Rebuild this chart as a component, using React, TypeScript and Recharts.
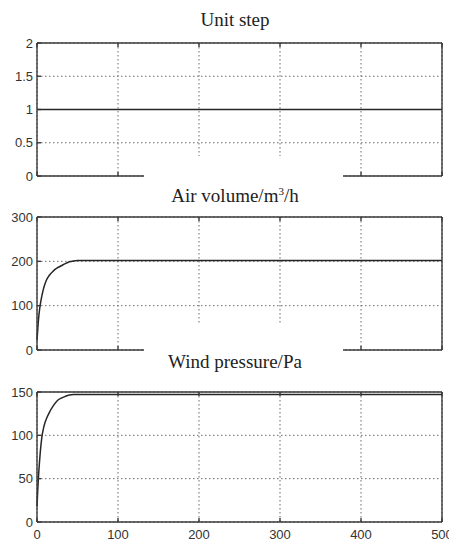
import React from 'react'
import { LineChart, Line, XAxis, YAxis, CartesianGrid } from 'recharts'

const time = [0, 1, 2, 3, 4, 6, 8, 10, 12, 15, 20, 25, 30, 35, 40, 45, 50, 500]
const unitStep = [1, 1, 1, 1, 1, 1, 1, 1, 1, 1, 1, 1, 1, 1, 1, 1, 1, 1]
const airVolume = [22, 48, 72, 89, 102, 122, 138, 150, 159, 168, 178, 185, 190, 195, 199, 201, 202, 202]
const windPressure = [18, 38, 55, 68, 80, 98, 108, 115, 120, 126, 134, 140, 143, 145, 146.5, 147, 147, 147]

const xTicks = [0, 100, 200, 300, 400, 500]
const stepTicks = [0, 0.5, 1, 1.5, 2]
const airTicks = [0, 100, 200, 300]
const windTicks = [0, 50, 100, 150]

const BORDER = '#3a3a3a'
const GRID = '#6a6a6a'
const LINE = '#262626'
const tickStyle = { fontSize: 13, fill: '#333', fontFamily: 'Liberation Sans, Arial, sans-serif' }

// hidden labels but keep ticks (so the grid still gets them)
const noLabel = () => <g />

type PanelProps = {
  values: number[]
  yTicks: number[]
  top: number
  plotHeight: number
  showX?: boolean
}

function Panel({ values, yTicks, top, plotHeight, showX }: PanelProps) {
  const data = time.map((t, i) => ({ t, v: values[i] }))
  const xHeight = showX ? 24 : 10
  const domain: [number, number] = [yTicks[0], yTicks[yTicks.length - 1]]
  return (
    <div style={{ position: 'absolute', left: 0, top }}>
      <LineChart width={449} height={10 + plotHeight + xHeight} data={data} margin={{ top: 0, right: 0, bottom: 0, left: 0 }}>
        <CartesianGrid stroke={GRID} strokeDasharray="1.5 2.5" />
        <XAxis
          dataKey="t"
          type="number"
          domain={[0, 500]}
          ticks={xTicks}
          height={xHeight}
          tick={showX ? tickStyle : noLabel}
          tickSize={-4}
          tickMargin={12}
          stroke={BORDER}
          strokeWidth={1.4}
          interval={0}
        />
        <XAxis
          xAxisId="top"
          orientation="top"
          dataKey="t"
          type="number"
          domain={[0, 500]}
          ticks={xTicks}
          height={10}
          tick={noLabel}
          tickSize={-4}
          stroke={BORDER}
          strokeWidth={1.4}
          interval={0}
        />
        <YAxis
          type="number"
          domain={domain}
          ticks={yTicks}
          width={37}
          tick={tickStyle}
          tickSize={-4}
          tickMargin={8}
          stroke={BORDER}
          strokeWidth={1.4}
          interval={0}
        />
        <YAxis
          yAxisId="right"
          orientation="right"
          type="number"
          domain={domain}
          ticks={yTicks}
          width={7}
          tick={noLabel}
          tickSize={-4}
          stroke={BORDER}
          strokeWidth={1.4}
          interval={0}
        />
        <Line type="monotone" dataKey="v" stroke={LINE} strokeWidth={1.5} dot={false} isAnimationActive={false} />
      </LineChart>
    </div>
  )
}

const titleStyle: React.CSSProperties = {
  position: 'absolute',
  left: 0,
  width: 470,
  textAlign: 'center',
  fontFamily: 'Liberation Serif, Times New Roman, serif',
  fontSize: 19,
  lineHeight: '19px',
  color: '#222',
}

const cover: React.CSSProperties = {
  position: 'absolute',
  left: 144,
  width: 199,
  background: '#fff',
}

export default function App() {
  return (
    <div style={{ position: 'absolute', left: 0, top: 0, width: 449, height: 544, background: '#fff', overflow: 'hidden' }}>
      <Panel values={unitStep} yTicks={stepTicks} top={33} plotHeight={133} />
      <Panel values={airVolume} yTicks={airTicks} top={207} plotHeight={133} />
      <Panel values={windPressure} yTicks={windTicks} top={382} plotHeight={130} showX />
      <div style={{ ...cover, top: 156, height: 50 }} />
      <div style={{ ...cover, top: 324, height: 50 }} />
      <div style={{ ...titleStyle, top: 10 }}>Unit step</div>
      <div style={{ ...titleStyle, top: 186 }}>
        Air volume/m<sup style={{ fontSize: 11, verticalAlign: 'top', lineHeight: '11px' }}>3</sup>/h
      </div>
      <div style={{ ...titleStyle, top: 352 }}>Wind pressure/Pa</div>
    </div>
  )
}
